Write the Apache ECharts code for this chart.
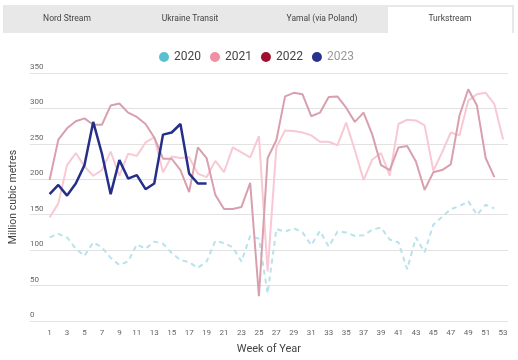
<!DOCTYPE html>
<html>
<head>
<meta charset="utf-8">
<script src="https://cdn.jsdelivr.net/npm/echarts@6/dist/echarts.min.js"></script>
<style>html,body{margin:0;padding:0;background:#fff}#c{width:518px;height:360px}</style>
</head>
<body>
<div id="c"></div>
<script>
var weeks = [1,2,3,4,5,6,7,8,9,10,11,12,13,14,15,16,17,18,19,20,21,22,23,24,25,26,27,28,29,30,31,32,33,34,35,36,37,38,39,40,41,42,43,44,45,46,47,48,49,50,51,52,53];
var xTickLabels = [1,3,5,7,9,11,13,15,17,19,21,23,25,27,29,31,33,35,37,39,41,43,45,47,49,51,53];
var tabs = ['Nord Stream','Ukraine Transit','Yamal (via Poland)','Turkstream'];
var years = ['2020','2021','2022','2023'];
var v2020 = [118,123,118,102,92,111,104,89,79,84,108,102,112,109,96,86,83,75,84,113,110,104,84,120,116,39,130,126,131,125,107,127,105,126,125,120,121,129,132,115,111,73,118,97,136,147,158,162,169,150,164,159];
var v2021 = [146,166,220,237,218,205,213,239,205,236,233,252,259,210,232,230,231,208,203,226,210,245,238,231,261,70,245,269,268,266,262,253,253,248,280,241,199,228,237,205,278,284,283,276,212,238,266,262,311,320,322,306,256];
var v2022 = [199,256,272,282,286,277,277,304,307,294,288,278,259,229,229,213,182,245,230,178,158,158,161,195,35,230,255,317,322,320,289,294,316,317,301,281,294,263,220,213,245,247,225,185,210,213,221,290,327,304,230,203];
var v2023 = [179,192,177,194,220,281,236,179,227,201,206,186,194,263,266,278,208,194,194];

function pairs(vals){ return vals.map(function(v,i){ return [weeks[i], v]; }); }

var FONT = 'Roboto';
var chart = echarts.init(document.getElementById('c'), null, {renderer:'canvas'});
var tabCenters = [67,190,322,450];
var graphics = [
  {type:'rect', shape:{x:3,y:5,width:511,height:28}, style:{fill:'#e8e8e8'}, z:-10},
  {type:'rect', shape:{x:388,y:7,width:124,height:27}, style:{fill:'#ffffff'}, z:-9}
];
tabs.forEach(function(t,i){
  graphics.push({type:'text', x:tabCenters[i], y:19, style:{text:t, fill:'#444', font:'8.5px '+FONT, textAlign:'center', textVerticalAlign:'middle'}});
});

chart.setOption({
  animation:false,
  textStyle:{fontFamily:FONT},
  graphic: graphics,
  legend:{
    top:46, left:154, icon:'circle', itemWidth:10, itemHeight:10, itemGap:9,
    textStyle:{fontSize:12, color:'#444', fontFamily:FONT},
    data:[
      {name:years[0], itemStyle:{color:'#5bbfd0'}},
      {name:years[1], itemStyle:{color:'#f090a3'}},
      {name:years[2], itemStyle:{color:'#a10f30'}},
      {name:years[3], itemStyle:{color:'#2a3290'}, textStyle:{color:'#999'}}
    ]
  },
  grid:{left:23, right:10, top:73, bottom:30, containLabel:false},
  xAxis:{
    type:'value', min:-1.26, max:53.56,
    name:'Week of Year', nameLocation:'middle', nameGap:23,
    nameTextStyle:{fontSize:11, color:'#444'},
    axisLine:{show:false}, axisTick:{show:false}, splitLine:{show:false},
    axisLabel:{customValues:xTickLabels, fontSize:8, color:'#666', margin:8}
  },
  yAxis:{
    type:'value', min:0, max:350, interval:50,
    name:'Million cubic metres', nameLocation:'middle', nameGap:7,
    nameTextStyle:{fontSize:10.5, color:'#444'},
    axisLine:{show:false}, axisTick:{show:false},
    splitLine:{lineStyle:{color:'#e2e2e2', width:1}},
    axisLabel:{inside:true, margin:0, verticalAlign:'bottom', padding:[0,0,2,0], fontSize:8, color:'#666'}
  },
  series:[
    {name:years[0], type:'line', data:pairs(v2020), showSymbol:false, itemStyle:{color:'#5bbfd0'},
     lineStyle:{color:'#b8e2ec', width:2, type:[5,4]}, z:1},
    {name:years[1], type:'line', data:pairs(v2021), showSymbol:false, itemStyle:{color:'#f090a3'},
     lineStyle:{color:'#f8c9d4', width:2}, z:2},
    {name:years[2], type:'line', data:pairs(v2022), showSymbol:false, itemStyle:{color:'#a10f30'},
     lineStyle:{color:'#d8a0ae', width:2}, z:3},
    {name:years[3], type:'line', data:pairs(v2023), showSymbol:false, itemStyle:{color:'#2a3290'},
     lineStyle:{color:'#262f88', width:2.5}, z:4}
  ]
});
</script>
</body>
</html>
